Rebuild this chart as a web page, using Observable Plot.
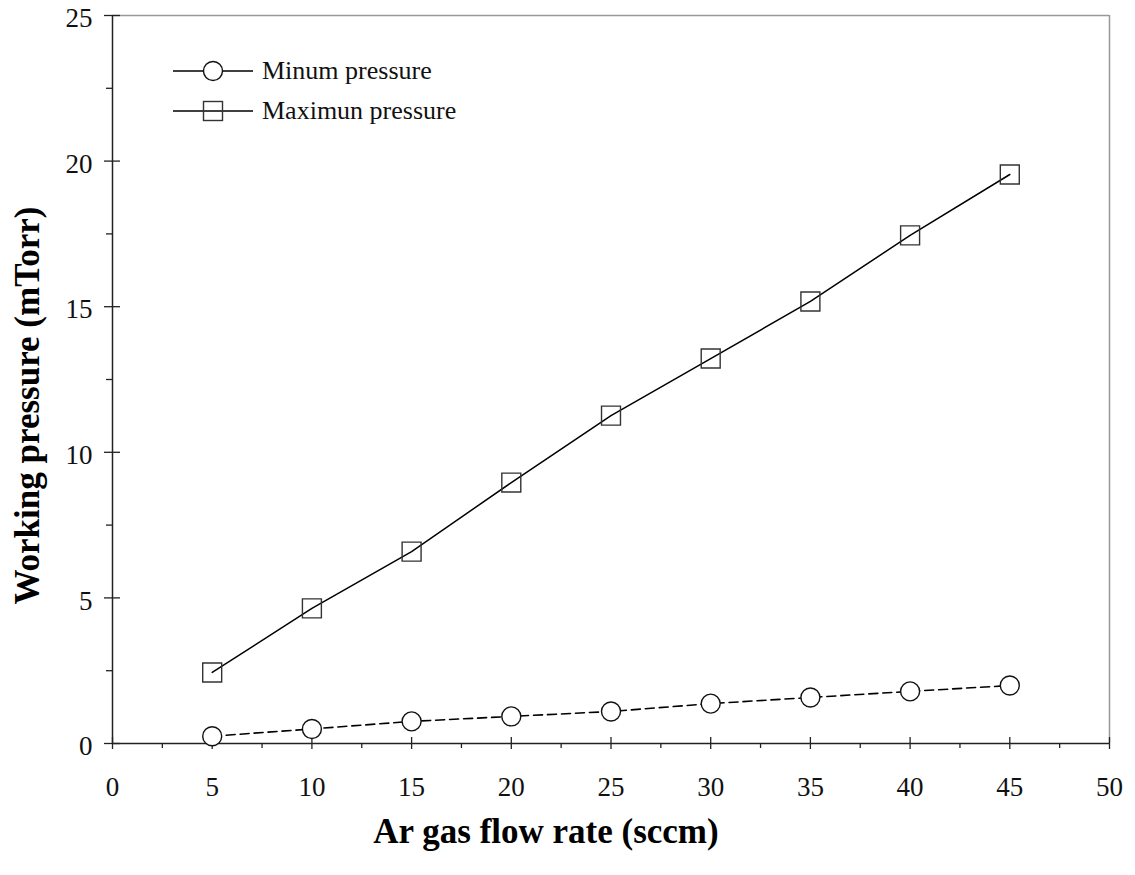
<!DOCTYPE html>
<html>
<head>
<meta charset="utf-8">
<script src="https://cdn.jsdelivr.net/npm/d3@7"></script>
<script src="https://cdn.jsdelivr.net/npm/@observablehq/plot@0.6"></script>
<style>
  html, body { margin: 0; padding: 0; background: #fff; }
  #wrap { position: relative; width: 1135px; height: 875px; font-family: "Liberation Serif", "Times New Roman", serif; }
  #legend { position: absolute; left: 172px; top: 51px; font-size: 26px; color: #111; }
  #legend .row { display: flex; align-items: center; height: 40px; }
  #legend svg { display: block; margin-right: 8px; }
</style>
</head>
<body>
<div id="wrap">
  <div id="chart"></div>
  <div id="legend"></div>
</div>
<script>
const flowRate = [5, 10, 15, 20, 25, 30, 35, 40, 45];
const minPressure = [0.25, 0.5, 0.76, 0.93, 1.1, 1.37, 1.58, 1.79, 1.99];
const maxPressure = [2.44, 4.64, 6.59, 8.96, 11.26, 13.22, 15.18, 17.45, 19.54];
const xTicks = [0, 5, 10, 15, 20, 25, 30, 35, 40, 45, 50];
const xMinorTicks = [2.5, 7.5, 12.5, 17.5, 22.5, 27.5, 32.5, 37.5, 42.5, 47.5];
const yTicks = [0, 5, 10, 15, 20, 25];
const yMinorTicks = [2.5, 7.5, 12.5, 17.5, 22.5];
const seriesNames = ["Minum pressure", "Maximun pressure"];
const xTitle = "Ar gas flow rate (sccm)";
const yTitle = "Working pressure (mTorr)";

const minData = flowRate.map((x, i) => ({x, y: minPressure[i]}));
const maxData = flowRate.map((x, i) => ({x, y: maxPressure[i]}));

const font = "Liberation Serif, Times New Roman, serif";

const chart = Plot.plot({
  width: 1135,
  height: 875,
  marginLeft: 112,
  marginRight: 26,
  marginTop: 15,
  marginBottom: 132,
  style: {fontFamily: font, fontSize: "27px", color: "#111", background: "#fff"},
  x: {domain: [0, 50]},
  y: {domain: [0, 25]},
  marks: [
    // frame top/right (gray)
    Plot.ruleY([25], {stroke: "#999", strokeWidth: 1.5}),
    Plot.ruleX([50], {stroke: "#999", strokeWidth: 1.5}),
    // x axis ticks
    Plot.axisX({ticks: xTicks, tickSize: 12, dy: -6, tickFormat: () => "", label: null, stroke: "#222", strokeWidth: 1.3}),
    Plot.axisX({ticks: xMinorTicks, tickSize: 5, tickFormat: () => "", label: null, stroke: "#222", strokeWidth: 1.3}),
    Plot.axisX({ticks: xTicks, tickSize: 0, tickPadding: 33, tickFormat: d => String(d), label: null, fontSize: 27, fill: "#111"}),
    // y axis ticks
    Plot.axisY({ticks: yTicks, tickSize: 16, dx: 8, tickFormat: () => "", label: null, stroke: "#222", strokeWidth: 1.3}),
    Plot.axisY({ticks: yMinorTicks, tickSize: 6, tickFormat: () => "", label: null, stroke: "#222", strokeWidth: 1.3}),
    Plot.axisY({ticks: yTicks, tickSize: 0, tickPadding: 20, dy: 3, tickFormat: d => String(d), label: null, fontSize: 27, fill: "#111"}),
    // axis lines
    Plot.ruleX([0], {stroke: "#222", strokeWidth: 1.5}),
    Plot.ruleY([0], {stroke: "#222", strokeWidth: 1.5}),
    // series
    Plot.line(maxData, {x: "x", y: "y", stroke: "#000", strokeWidth: 1.5}),
    Plot.line(minData, {x: "x", y: "y", stroke: "#000", strokeWidth: 1.6, strokeDasharray: "9,5"}),
    Plot.dot(maxData, {x: "x", y: "y", symbol: "square", r: 10.7, stroke: "#333", strokeWidth: 1.4, fill: "none"}),
    Plot.dot(minData, {x: "x", y: "y", symbol: "circle", r: 9.5, stroke: "#111", strokeWidth: 1.4, fill: "#fff"}),
    // titles
    Plot.text([xTitle], {frameAnchor: "bottom", textAnchor: "middle", lineAnchor: "middle", dx: -65, dy: 88, fontSize: 35, fontWeight: "bold", fill: "#000"}),
    Plot.text([yTitle], {frameAnchor: "left", textAnchor: "middle", lineAnchor: "middle", dx: -85, dy: 26, rotate: -90, fontSize: 35, fontWeight: "bold", fill: "#000"})
  ]
});
document.getElementById("chart").appendChild(chart);

// legend
const legend = d3.select("#legend");
const symbols = ["circle", "square"];
seriesNames.forEach((name, i) => {
  const row = legend.append("div").attr("class", "row");
  const s = row.append("svg").attr("width", 82).attr("height", 24);
  s.append("line").attr("x1", 1).attr("x2", 81).attr("y1", 12).attr("y2", 12)
    .attr("stroke", "#000").attr("stroke-width", 1.5);
  if (symbols[i] === "circle") {
    s.append("circle").attr("cx", 41).attr("cy", 12).attr("r", 9.5)
      .attr("fill", "#fff").attr("stroke", "#111").attr("stroke-width", 1.4);
  } else {
    s.append("rect").attr("x", 31.5).attr("y", 2.5).attr("width", 19).attr("height", 19)
      .attr("fill", "none").attr("stroke", "#333").attr("stroke-width", 1.4);
  }
  row.append("span").text(name);
});
</script>
</body>
</html>
